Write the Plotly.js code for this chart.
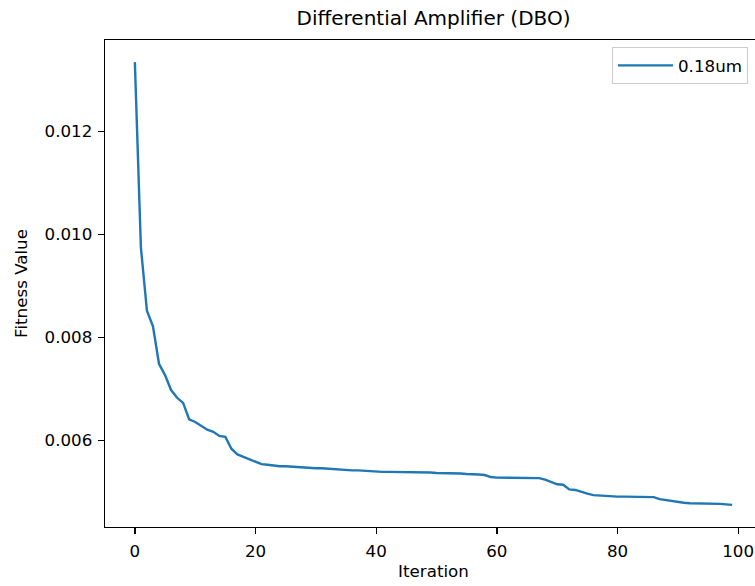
<!DOCTYPE html>
<html>
<head>
<meta charset="utf-8">
<script src="https://cdn.plot.ly/plotly-3.0.1.min.js"></script>
<style>
html, body { margin: 0; padding: 0; overflow: hidden; background: #fff; }
#chart { width: 800px; height: 586px; }
</style>
</head>
<body>
<div id="chart"></div>
<script>
const iterations = Array.from({length: 100}, (_, i) => i);
const fitness018 = [
  0.01335, 0.00975, 0.00852, 0.00822, 0.00749, 0.00727, 0.00698, 0.00683, 0.00673, 0.00641,
  0.00636, 0.00629, 0.00621, 0.00617, 0.00609, 0.00607, 0.00584, 0.00573, 0.00568, 0.00564,
  0.00559, 0.00554, 0.00553, 0.00551, 0.00550, 0.00550, 0.00549, 0.00548, 0.00547, 0.00547,
  0.00546, 0.00546, 0.00545, 0.00545, 0.00544, 0.00543, 0.00542, 0.00542, 0.00541, 0.00541,
  0.00540, 0.00539, 0.00539, 0.00539, 0.00538, 0.00538, 0.00538, 0.00538, 0.00538, 0.00538,
  0.00537, 0.00537, 0.00537, 0.00536, 0.00536, 0.00535, 0.00535, 0.00534, 0.00533, 0.00529,
  0.00528, 0.00528, 0.00528, 0.00528, 0.00527, 0.00527, 0.00527, 0.00527, 0.00524, 0.00519,
  0.00515, 0.00514, 0.00505, 0.00504, 0.00500, 0.00497, 0.00494, 0.00493, 0.00492, 0.00491,
  0.00491, 0.00491, 0.00491, 0.00490, 0.00490, 0.00490, 0.00490, 0.00486, 0.00484, 0.00483,
  0.00481, 0.00479, 0.00478, 0.00478, 0.00478, 0.00478, 0.00478, 0.00477, 0.00476, 0.00475
];
const seriesName = "0.18um";
const chartTitle = "Differential Amplifier (DBO)";
const xLabel = "Iteration";
const yLabel = "Fitness Value";
const xTicks = [0, 20, 40, 60, 80, 100];
const yTicks = [0.006, 0.008, 0.010, 0.012];

const font = "DejaVu Sans, sans-serif";
const ymin = Math.min(...fitness018), ymax = Math.max(...fitness018);
const ypad = (ymax - ymin) * 0.05;
const xmin = 0, xmax = iterations.length - 1;
const xpad = (xmax - xmin) * 0.05;

const trace = {
  x: iterations, y: fitness018, type: 'scatter', mode: 'lines', name: seriesName,
  line: {color: '#1f77b4', width: 2.4}
};

const axisCommon = {
  showgrid: false, zeroline: false, showline: true, mirror: true,
  linecolor: '#000', linewidth: 1.3,
  ticks: 'outside', ticklen: 6, tickwidth: 1.3, tickcolor: '#000',
  tickfont: {family: font, size: 16.7, color: '#000'}
};

const layout = {
  width: 800, height: 586,
  margin: {l: 105, r: 38, t: 40, b: 59},
  paper_bgcolor: '#fff', plot_bgcolor: '#fff',
  title: {text: chartTitle, font: {family: font, size: 20, color: '#000'},
          x: 0.5, xanchor: 'center', xref: 'paper',
          y: 1 - 18 / 586, yanchor: 'middle', yref: 'container'},
  xaxis: Object.assign({}, axisCommon, {
    range: [xmin - xpad, xmax + xpad], tickvals: xTicks, ticktext: xTicks.map(String),
    ticklabelstandoff: 3,
    title: {text: xLabel, font: {family: font, size: 16.7, color: '#000'}, standoff: 5}
  }),
  yaxis: Object.assign({}, axisCommon, {
    range: [ymin - ypad, ymax + ypad], tickvals: yTicks, ticktext: yTicks.map(v => v.toFixed(3)),
    ticklabelstandoff: 2,
    title: {text: yLabel, font: {family: font, size: 16.7, color: '#000'}, standoff: 12}
  }),
  showlegend: true,
  legend: {x: 0.9787, xanchor: 'right', y: 0.9856, yanchor: 'top', itemwidth: 55,
           bgcolor: 'rgba(255,255,255,0.8)', bordercolor: '#cccccc', borderwidth: 1,
           font: {family: font, size: 16.7, color: '#000'}}
};

Plotly.newPlot('chart', [trace], layout, {displayModeBar: false, staticPlot: true});
</script>
</body>
</html>
